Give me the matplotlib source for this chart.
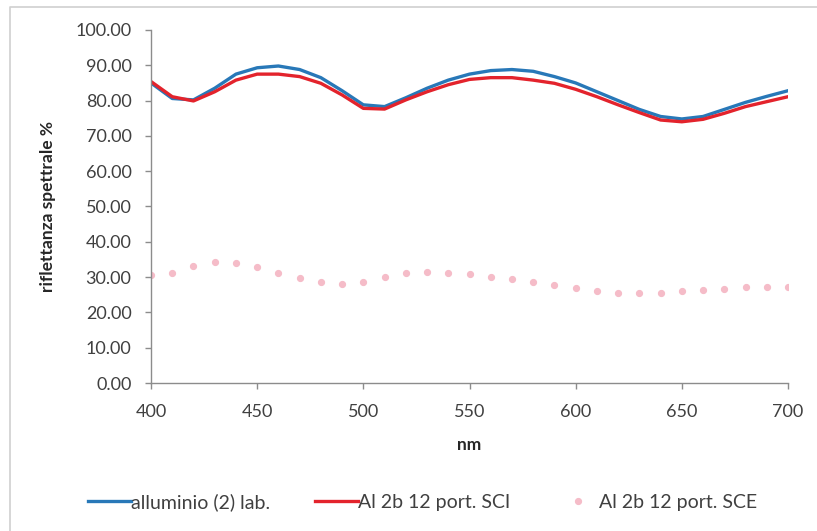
import numpy as np
import matplotlib
matplotlib.use('Agg')
from matplotlib import pyplot as plt
from matplotlib.lines import Line2D

plt.rcParams['font.family'] = ['Lato', 'DejaVu Sans']

nm = list(range(400, 701, 10))
# alluminio (2) lab.
lab = [85.0, 80.6, 80.2, 83.5, 87.5, 89.3, 89.8, 88.8, 86.5, 82.8, 78.8,
       78.3, 80.8, 83.5, 85.8, 87.5, 88.5, 88.8, 88.3, 86.8, 85.0,
       82.5, 80.0, 77.5, 75.5, 74.8, 75.5, 77.5, 79.5, 81.2, 82.8]
# Al 2b 12 port. SCI
sci = [85.4, 81.1, 79.9, 82.5, 85.8, 87.5, 87.5, 86.8, 84.9, 81.6, 77.8,
       77.6, 80.2, 82.5, 84.5, 86.0, 86.5, 86.5, 85.8, 84.9, 83.2,
       81.1, 78.8, 76.6, 74.5, 74.0, 74.7, 76.4, 78.3, 79.7, 81.1]
# Al 2b 12 port. SCE
sce = [30.6, 31.2, 33.1, 34.2, 33.9, 32.8, 31.2, 29.7, 28.7, 28.0, 28.7,
       30.1, 31.2, 31.5, 31.2, 30.8, 29.9, 29.4, 28.7, 27.9, 26.8,
       26.1, 25.6, 25.4, 25.6, 26.1, 26.3, 26.7, 27.1, 27.3, 27.3]
labels = ['alluminio (2) lab.', 'Al 2b 12 port. SCI', 'Al 2b 12 port. SCE']

fig = plt.figure(figsize=(8.17, 5.31), dpi=100)
ax = fig.add_axes([151 / 817, 1 - 383 / 531, (788 - 151) / 817, (383 - 30) / 531])

# frame of the chart area (only left and top edges are visible)
fig.add_artist(Line2D([10 / 817, 10 / 817, 1.0], [0.0, 1 - 7 / 531, 1 - 7 / 531],
                      transform=fig.transFigure, color='#d0d0d0', lw=1.2))

ax.plot(nm, lab, color='#2878b8', lw=2.4, solid_joinstyle='round', label=labels[0])
ax.plot(nm, sci, color='#e3232c', lw=2.4, solid_joinstyle='round', label=labels[1])
ax.plot(nm, sce, ls='none', marker='o', ms=4.2, color='#f5bcc8',
        mec='#f5bcc8', label=labels[2])

ax.set_xlim(400, 700)
ax.set_ylim(0, 100)
ax.set_xticks(range(400, 701, 50))
ax.set_yticks(np.arange(0, 101, 10))
ax.yaxis.set_major_formatter(matplotlib.ticker.FormatStrFormatter('%.2f'))
for s in ['top', 'right']:
    ax.spines[s].set_visible(False)
for s in ['left', 'bottom']:
    ax.spines[s].set_color('#8c8c8c')
    ax.spines[s].set_linewidth(1.0)
ax.tick_params(colors='#8c8c8c', length=4, width=1, labelsize=13,
               labelcolor='#404040')
ax.tick_params(axis='y', pad=10)
ax.tick_params(axis='x', pad=11)
ax.set_xlabel('nm', fontsize=12.5, fontweight='bold', color='#262626', labelpad=12)
ax.set_ylabel('riflettanza spettrale %', fontsize=12.5, fontweight='bold',
              color='#262626', labelpad=14)

fig.legend(loc='center', bbox_to_anchor=(0.5 + 14 / 817, 1 - 502 / 531), ncol=3,
           frameon=False, fontsize=14, handlelength=2.2, handletextpad=0.0,
           columnspacing=2.35, labelcolor='#404040')

fig.savefig('out.png', dpi=100)
